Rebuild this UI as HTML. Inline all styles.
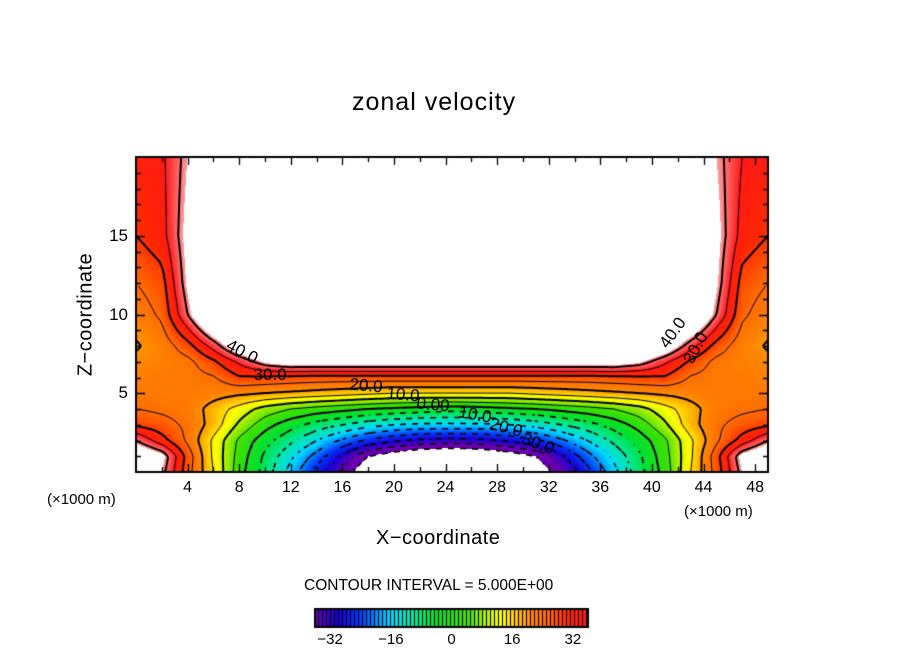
<!DOCTYPE html>
<html><head><meta charset="utf-8"><style>
html,body{margin:0;padding:0;background:#fff;}
#wrap{position:relative;width:904px;height:654px;overflow:hidden;font-family:"Liberation Sans",sans-serif;color:#000;}
.t{position:absolute;white-space:nowrap;}
canvas{position:absolute;left:0;top:0;}
</style></head><body>
<div id="wrap">
<canvas id="cv" width="904" height="654"></canvas>
<div class="t" style="left:352px;top:88px;font-size:25px;letter-spacing:1px;">zonal velocity</div>
<div class="t" style="left:-4px;top:303px;font-size:20px;transform:rotate(-90deg);transform-origin:center;width:180px;text-align:center;letter-spacing:0.5px;">Z−coordinate</div>
<div class="t" style="left:376px;top:527px;font-size:20px;letter-spacing:0.5px;">X−coordinate</div>
<div class="t" style="left:47px;top:491px;font-size:15px;">(×1000 m)</div>
<div class="t" style="left:684px;top:503px;font-size:15px;">(×1000 m)</div>
<div class="t" style="left:304px;top:577px;font-size:15.5px;">CONTOUR INTERVAL = 5.000E+00</div>
<div id="labels"></div>
</div>
<script>
// ---- data ----
const xCoords=[0,2,4,6,8,10,12,14,16,18,20,22,24,25,27,29,31,33,35,37,39,41,43,45,47,49];
const zCoords=[0,1,2,3,4,5,6,7,8,10,12,15,20];
const row0 =[50,42,27,15,2,-7,-17,-27,-36,-46,-52,-55,-56,-56,-55,-52,-46,-36,-27,-17,-7,2,15,27,42,50];
const row1 =[50,44,28,14,3,-6,-14,-22,-31,-40,-44,-47,-48,-48,-47,-44,-40,-31,-22,-14,-6,3,14,28,44,50];
const row2 =[40,32,24,14,4,-3,-9,-15,-21,-26,-29,-31,-32,-32,-31,-29,-26,-21,-15,-9,-3,4,14,24,32,40];
const row3 =[29,27,24,18,9,2,-3,-7,-10,-13,-15,-16,-16,-16,-16,-15,-13,-10,-7,-3,2,9,18,24,27,29];
const row4 =[25,24,23,18,13,8,5,3,1.5,0,-1,-2,-3,-3,-2,-1,0,1.5,3,5,8,13,18,23,24,25];
const row5 =[23,23,23,22,21,20,19,18,17,16,15,15,15,15,15,15,16,17,18,19,20,21,22,23,23,23];
const row6 =[22,23,23,24.5,29.5,29,28.5,28,28,28,28,28,28,28,28,28,28,28,28,28.5,29,29.5,24.5,23,23,22];
const row7 =[21,22,23.5,29,36,43,46,46,46,46,46,46,46,46,46,46,46,46,46,46,43,36,29,23.5,22,21];
const row8 =[19.5,22,28,37,48,55,55,55,55,55,55,55,55,55,55,55,55,55,55,55,55,48,37,28,22,19.5];
const row10=[22,26,40,55,60,60,60,60,60,60,60,60,60,60,60,60,60,60,60,60,60,60,55,40,26,22];
const row12=[25,28,43,58,60,60,60,60,60,60,60,60,60,60,60,60,60,60,60,60,60,60,58,43,28,25];
const row15=[30,33,44,60,60,60,60,60,60,60,60,60,60,60,60,60,60,60,60,60,60,60,60,44,33,30];
const row20=[33,34,42,60,60,60,60,60,60,60,60,60,60,60,60,60,60,60,60,60,60,60,60,42,35,34];
const velocity=[row0,row1,row2,row3,row4,row5,row6,row7,row8,row10,row12,row15,row20];
const contourLevels=[-40,-35,-30,-25,-20,-15,-10,-5,0,5,10,15,20,25,30,35,40];
const xTickLabels=[4,8,12,16,20,24,28,32,36,40,44,48];
const yTickLabels=[5,10,15];
const cbarTickLabels=[-32,-16,0,16,32];
const contourLabels=[
 {t:"40.0",x:8.2,z:7.6,r:28},{t:"30.0",x:10.4,z:6.15,r:0},{t:"20.0",x:17.8,z:5.45,r:5},
 {t:"10.0",x:20.7,z:4.9,r:5},{t:"0.00",x:23.0,z:4.25,r:5},{t:"10.0",x:26.3,z:3.6,r:10},
 {t:"20.0",x:28.7,z:2.8,r:15},{t:"30.0",x:31.2,z:1.8,r:20},{t:"40.0",x:41.6,z:8.8,r:-55},{t:"30.0",x:43.4,z:7.9,r:-62}];

// ---- axes ----
const PL=136,PR=768,PT=157,PB=472, XMIN=0,XMAX=49,ZMIN=0,ZMAX=20;
const sx=v=>PL+(v-XMIN)/(XMAX-XMIN)*(PR-PL);
const sz=v=>PB-(v-ZMIN)/(ZMAX-ZMIN)*(PB-PT);
const CBL=315,CBR=588,CBMIN=-36,CBMAX=36;
const cbx=v=>CBL+(v-CBMIN)/(CBMAX-CBMIN)*(CBR-CBL);

function findIdx(arr,v){let i=0;while(i<arr.length-2&&v>arr[i+1])i++;return i;}
function field(x,z){
 const i=findIdx(xCoords,x), j=findIdx(zCoords,z);
 let tx=(x-xCoords[i])/(xCoords[i+1]-xCoords[i]); tx=Math.max(0,Math.min(1,tx));
 let tz=(z-zCoords[j])/(zCoords[j+1]-zCoords[j]); tz=Math.max(0,Math.min(1,tz));
 const a=velocity[j][i],b=velocity[j][i+1],c=velocity[j+1][i],d=velocity[j+1][i+1];
 return (a*(1-tx)+b*tx)*(1-tz)+(c*(1-tx)+d*tx)*tz;
}
const stops=[[-36,[106,0,176]],[-30,[24,0,208]],[-24,[0,64,255]],[-16,[0,216,255]],[-10,[0,232,160]],[-4,[0,224,48]],[4,[64,224,0]],[9,[176,240,0]],[13,[255,255,0]],[17,[255,200,0]],[21,[255,136,0]],[26,[255,100,0]],[31,[255,40,0]],[35,[255,24,24]],[38,[255,80,80]],[42,[255,154,154]]];
function color(v){
 if(v<=stops[0][0])return stops[0][1];
 for(let k=0;k<stops.length-1;k++){if(v<=stops[k+1][0]){const t=(v-stops[k][0])/(stops[k+1][0]-stops[k][0]);const A=stops[k][1],B=stops[k+1][1];return [A[0]+(B[0]-A[0])*t,A[1]+(B[1]-A[1])*t,A[2]+(B[2]-A[2])*t];}}
 return stops[stops.length-1][1];
}
const cv=document.getElementById('cv'),ctx=cv.getContext('2d');
const W=PR-PL,H=PB-PT, img=ctx.createImageData(W,H);
for(let py=0;py<H;py++){const z=ZMAX-(py+0.5)/H*(ZMAX-ZMIN);
 for(let px=0;px<W;px++){const x=XMIN+(px+0.5)/W*(XMAX-XMIN);const v=field(x,z);
  const o=(py*W+px)*4;let c=[255,255,255];
  if(v<=42&&v>=-40)c=color(v);
  img.data[o]=c[0];img.data[o+1]=c[1];img.data[o+2]=c[2];img.data[o+3]=255;}}
ctx.putImageData(img,PL,PT);
const step=3, nx=Math.ceil(W/step), nz=Math.ceil(H/step), G=[];
for(let j=0;j<=nz;j++){G[j]=[];for(let i=0;i<=nx;i++){const px=Math.min(W,i*step),py=Math.min(H,j*step);
 G[j][i]=field(XMIN+px/W*(XMAX-XMIN),ZMAX-py/H*(ZMAX-ZMIN));}}
ctx.save();ctx.beginPath();ctx.rect(PL,PT,W,H);ctx.clip();
contourLevels.forEach(L=>{
 const neg=L<0, thick=(L%10===0);
 ctx.strokeStyle='#000';ctx.lineWidth=neg?1.6:(thick?2:1);ctx.beginPath();
 for(let j=0;j<nz;j++)for(let i=0;i<nx;i++){
  const x0=PL+Math.min(W,i*step),x1=PL+Math.min(W,(i+1)*step),y0=PT+Math.min(H,j*step),y1=PT+Math.min(H,(j+1)*step);
  const a=G[j][i],b=G[j][i+1],c=G[j+1][i+1],d=G[j+1][i];
  const pts=[];
  if((a-L)*(b-L)<0)pts.push([x0+(L-a)/(b-a)*(x1-x0),y0]);
  if((b-L)*(c-L)<0)pts.push([x1,y0+(L-b)/(c-b)*(y1-y0)]);
  if((c-L)*(d-L)<0)pts.push([x1-(L-c)/(d-c)*(x1-x0),y1]);
  if((d-L)*(a-L)<0)pts.push([x0,y1-(L-d)/(a-d)*(y1-y0)]);
  if(neg&&((Math.floor(i/2)+Math.floor(j/2))%2===1))continue;
  for(let k=0;k+1<pts.length;k+=2){ctx.moveTo(pts[k][0],pts[k][1]);ctx.lineTo(pts[k+1][0],pts[k+1][1]);}
 }
 ctx.stroke();
});
ctx.restore();
ctx.strokeStyle='#000';ctx.lineWidth=2;ctx.strokeRect(PL,PT,W,H);
ctx.lineWidth=1.3;ctx.beginPath();
for(let v=2;v<XMAX;v+=2){const X=Math.round(sx(v))+0.5;const len=(v%4===0)?8:5;ctx.moveTo(X,PB);ctx.lineTo(X,PB-len);ctx.moveTo(X,PT);ctx.lineTo(X,PT+len);}
for(let v=1;v<ZMAX;v++){const Y=Math.round(sz(v))+0.5;const len=(v%5===0)?9:5;ctx.moveTo(PL,Y);ctx.lineTo(PL+len,Y);ctx.moveTo(PR,Y);ctx.lineTo(PR-len,Y);}
ctx.stroke();
for(let px=CBL;px<CBR;px++){const v=CBMIN+(px-CBL+0.5)/(CBR-CBL)*(CBMAX-CBMIN);const c=color(v);
 ctx.fillStyle=((px-CBL)%4===3)?'#000':'rgb('+c.map(Math.round).join(',')+')';ctx.fillRect(px,609,1,18);}
ctx.lineWidth=2;ctx.strokeRect(CBL,609,CBR-CBL,18);
const wrap=document.getElementById('wrap');
xTickLabels.forEach(v=>{const d=document.createElement('div');d.className='t';
 
 
 d.style.cssText='left:'+(sx(v)-20)+'px;top:479px;width:40px;text-align:center;font-size:16px;';d.textContent=v;wrap.appendChild(d);});
yTickLabels.forEach(v=>{const d=document.createElement('div');d.className='t';
 
 
 d.style.cssText='left:90px;top:'+(sz(v)-10)+'px;width:38px;text-align:right;font-size:17px;';d.textContent=v;wrap.appendChild(d);});
cbarTickLabels.forEach(v=>{const d=document.createElement('div');d.className='t';
 
 
 d.style.cssText='left:'+(cbx(v)-25)+'px;top:631px;width:50px;text-align:center;font-size:15px;';d.textContent=(v<0?'−'+(-v):v);wrap.appendChild(d);});
contourLabels.forEach(o=>{const d=document.createElement('div');d.className='t';
 
 
 d.style.cssText='left:'+(sx(o.x)-20)+'px;top:'+(sz(o.z)-10)+'px;width:40px;text-align:center;font-size:17px;transform:rotate('+o.r+'deg);';d.textContent=o.t;wrap.appendChild(d);});
</script>
</body></html>
